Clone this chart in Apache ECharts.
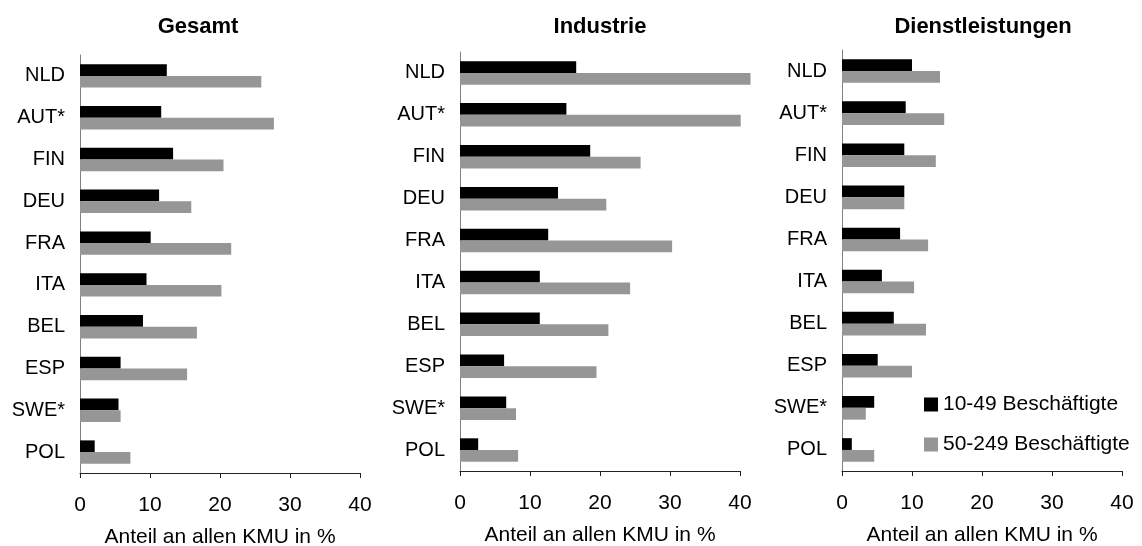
<!DOCTYPE html>
<html>
<head>
<meta charset="utf-8">
<script src="https://cdn.jsdelivr.net/npm/echarts@6/dist/echarts.min.js"></script>
<style>html,body{margin:0;padding:0;background:#fff}#c{width:1142px;height:546px}</style>
</head>
<body>
<div id="c"></div>
<script>
const categories = ['NLD','AUT*','FIN','DEU','FRA','ITA','BEL','ESP','SWE*','POL'];
const panelTitles = ['Gesamt','Industrie','Dienstleistungen'];
const seriesNames = ['10-49 Beschäftigte','50-249 Beschäftigte'];
const gesamtSmall = [12.4,11.6,13.3,11.3,10.1,9.5,9.0,5.8,5.5,2.1];
const gesamtMedium = [25.9,27.7,20.5,15.9,21.6,20.2,16.7,15.3,5.8,7.2];
const industrieSmall = [16.6,15.2,18.6,14.0,12.6,11.4,11.4,6.3,6.6,2.6];
const industrieMedium = [41.5,40.1,25.8,20.9,30.3,24.3,21.2,19.5,8.0,8.3];
const dienstSmall = [10.0,9.1,8.9,8.9,8.3,5.7,7.4,5.1,4.6,1.4];
const dienstMedium = [14.0,14.6,13.4,8.9,12.3,10.3,12.0,10.0,3.4,4.6];
const xTicks = [0,10,20,30,40];
const axisName = 'Anteil an allen KMU in %';

const panels = [[gesamtSmall,gesamtMedium],[industrieSmall,industrieMedium],[dienstSmall,dienstMedium]];
const grids = [
  {left:80, width:280, top:55, height:418, containLabel:false, outerBoundsMode:'none'},
  {left:460, width:280, top:52, height:419, containLabel:false, outerBoundsMode:'none'},
  {left:842, width:280, top:50, height:421, containLabel:false, outerBoundsMode:'none'}
];
const titleCenters = [198, 600, 983];
const font = 'Liberation Sans, Arial, sans-serif';
const colors = ['#000000','#969696'];

const chart = echarts.init(document.getElementById('c'), null, {renderer:'canvas'});
const option = {
  animation:false,
  backgroundColor:'#fff',
  textStyle:{fontFamily:font},
  title: panelTitles.map((t,i)=>({
    text:t, left:titleCenters[i], top:16, textAlign:'center', padding:0,
    textStyle:{fontFamily:font, fontSize:22, fontWeight:'bold', color:'#000'}
  })),
  legend:{
    data:seriesNames, orient:'vertical', left:924, top:394, padding:0,
    itemWidth:14, itemHeight:14, itemGap:19, icon:'rect',
    textStyle:{fontFamily:font, fontSize:21, color:'#000'}
  },
  grid: grids,
  xAxis: grids.map((g,i)=>({
    type:'value', gridIndex:i, min:xTicks[0], max:xTicks[xTicks.length-1], interval:10,
    splitLine:{show:false},
    axisLine:{show:true, lineStyle:{color:'#222', width:1}},
    axisTick:{show:true, length:5, lineStyle:{color:'#222'}},
    axisLabel:{fontFamily:font, fontSize:21, color:'#000', margin:22},
    name:axisName, nameLocation:'middle', nameGap:54,
    nameTextStyle:{fontFamily:font, fontSize:21, color:'#000'}
  })),
  yAxis: grids.map((g,i)=>({
    type:'category', gridIndex:i, data:categories, inverse:true,
    axisLine:{show:true, lineStyle:{color:'#808080', width:1}},
    axisTick:{show:false},
    axisLabel:{fontFamily:font, fontSize:20, color:'#000', margin:15}
  })),
  series: []
};
panels.forEach((p,i)=>{
  p.forEach((vals,j)=>{
    option.series.push({
      type:'bar', name:seriesNames[j], xAxisIndex:i, yAxisIndex:i,
      data:vals, barGap:'0%', barCategoryGap:'44%', clip:false,
      itemStyle:{color:colors[j]}
    });
  });
});
chart.setOption(option);
</script>
</body>
</html>
